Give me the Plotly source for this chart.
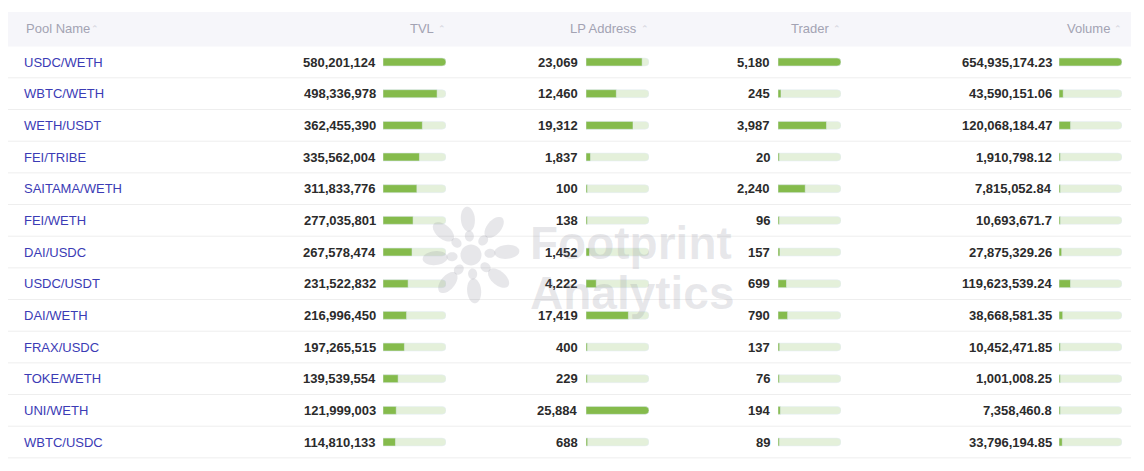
import math
import plotly.graph_objects as go

pools = ["USDC/WETH", "WBTC/WETH", "WETH/USDT", "FEI/TRIBE", "SAITAMA/WETH", "FEI/WETH", "DAI/USDC",
         "USDC/USDT", "DAI/WETH", "FRAX/USDC", "TOKE/WETH", "UNI/WETH", "WBTC/USDC"]
tvl = [580201124, 498336978, 362455390, 335562004, 311833776, 277035801, 267578474,
       231522832, 216996450, 197265515, 139539554, 121999003, 114810133]
lp_address = [23069, 12460, 19312, 1837, 100, 138, 1452, 4222, 17419, 400, 229, 25884, 688]
trader = [5180, 245, 3987, 20, 2240, 96, 157, 699, 790, 137, 76, 194, 89]
volume = [654935174.23, 43590151.06, 120068184.47, 1910798.12, 7815052.84, 10693671.7, 27875329.26,
          119623539.24, 38668581.35, 10452471.85, 1001008.25, 7358460.8, 33796194.85]
headers = ["Pool Name", "TVL", "LP Address", "Trader", "Volume"]

PAGE_W, PAGE_H = 1144, 471
BODY = 8  # default body margin of the html page
W, H = PAGE_W - BODY, PAGE_H - BODY
TOP, PITCH = 62, 31.67  # first row centre and row height in page px


def py(p):
    return (p - TOP) / PITCH


def fmt_int(v):
    return f"{v:,}"


def fmt_dec(v):
    s = f"{v:,.2f}"
    return s.rstrip("0").rstrip(".")


rows = list(range(len(pools)))

# (values, formatter, number right edge px, bar start px, bar end px, header right edge px)
columns = [
    (tvl, fmt_int, 376, 383, 446, 434),
    (lp_address, fmt_int, 578, 586, 649, 637),
    (trader, fmt_int, 770, 778, 841, 829),
    (volume, fmt_dec, 1052, 1059, 1122, 1110),
]

GREEN = "#85bb4c"
LIGHT = "#e4f0da"
FONT = "Liberation Sans, Arial, sans-serif"
HEAD = "#a3a3b3"

fig = go.Figure()
annotations = []
layout_axes = {}


def header(x, text, anchor):
    annotations.append(dict(x=x, y=py(28), text=text, xanchor=anchor, showarrow=False,
                            font=dict(family=FONT, size=13, color=HEAD)))


def sort_arrow(x):
    annotations.append(dict(x=x, y=py(29), text="⌃", xanchor="left", showarrow=False,
                            font=dict(family="DejaVu Sans", size=9, color="#d2d2da")))


for k, (vals, fmt, num_x, b0, b1, hx) in enumerate(columns):
    ax = k + 2
    vmax = max(vals)
    shown = [max(v, vmax * 0.022) for v in vals]
    fig.add_trace(go.Bar(x=[vmax] * len(vals), y=rows, orientation="h", width=0.25,
                         marker=dict(color=LIGHT, cornerradius=4), xaxis=f"x{ax}", yaxis="y",
                         hoverinfo="skip", showlegend=False))
    fig.add_trace(go.Bar(x=shown, y=rows, orientation="h", width=0.25,
                         marker=dict(color=GREEN, cornerradius=4), xaxis=f"x{ax}", yaxis="y",
                         customdata=vals, hovertemplate="%{customdata}<extra></extra>", showlegend=False))
    layout_axes[f"xaxis{ax}"] = dict(domain=[(b0 - BODY) / W, (b1 - BODY) / W], range=[0, vmax],
                                     visible=False, anchor="y", fixedrange=True)
    for r, v in zip(rows, vals):
        annotations.append(dict(x=num_x + 2, y=r, text=fmt(v), xanchor="right", showarrow=False,
                                font=dict(family=FONT, size=13, color="#2b2b2b", weight="bold")))
    header(hx + 2, headers[k + 1], "right")
    sort_arrow(hx + 2)

for r, name in zip(rows, pools):
    annotations.append(dict(x=22, y=r, text=name, xanchor="left", showarrow=False,
                            font=dict(family=FONT, size=13, color="#3b3bb5")))
header(24, headers[0], "left")
sort_arrow(89)

# watermark
wm = "rgba(130,130,145,0.19)"
annotations.append(dict(x=528, y=py(243), text="<b>Footprint</b>", xanchor="left", showarrow=False,
                        font=dict(family=FONT, size=46, color=wm)))
annotations.append(dict(x=528, y=py(293), text="<b>Analytics</b>", xanchor="left", showarrow=False,
                        font=dict(family=FONT, size=46, color=wm)))


def ellipse_path(cx, cy, a, b, ang):
    pts = []
    for i in range(36):
        t = 2 * math.pi * i / 36
        ex, ey = a * math.cos(t), b * math.sin(t)
        x = cx + ex * math.cos(ang) - ey * math.sin(ang)
        y = cy - (ex * math.sin(ang) + ey * math.cos(ang))
        pts.append(f"{x:.2f},{py(y):.4f}")
    return "M" + "L".join(pts) + "Z"


shapes = [dict(type="rect", xref="x", yref="y", x0=6, x1=1131, y0=py(12), y1=py(46.5),
               fillcolor="#f6f6fa", line=dict(width=0), layer="below")]
for r in rows:
    shapes.append(dict(type="line", xref="x", yref="y", x0=6, x1=1131, y0=r + 0.5, y1=r + 0.5,
                       line=dict(color="#eeeeee", width=1), layer="below"))

cx, cy = 471, 255
logo = [ellipse_path(cx, cy, 10.5, 10.5, 0)]
for i in range(8):
    a = math.radians(90 - i * 45 + 5)
    logo.append(ellipse_path(cx + 19 * math.cos(a), cy - 19 * math.sin(a), 5.5, 4.5, a))
    logo.append(ellipse_path(cx + 36 * math.cos(a), cy - 36 * math.sin(a), 12.5, 7, a))
for p in logo:
    shapes.append(dict(type="path", xref="x", yref="y", path=p, fillcolor=wm,
                       line=dict(width=0), layer="above"))

fig.update_layout(
    width=W, height=H, margin=dict(l=0, r=0, t=0, b=0),
    paper_bgcolor="white", plot_bgcolor="rgba(0,0,0,0)", barmode="overlay",
    xaxis=dict(range=[BODY, PAGE_W], domain=[0, 1], visible=False, fixedrange=True),
    yaxis=dict(range=[py(PAGE_H), py(BODY)], visible=False, fixedrange=True),
    shapes=shapes, annotations=annotations, showlegend=False,
    **layout_axes,
)

fig.write_html("out.html")
